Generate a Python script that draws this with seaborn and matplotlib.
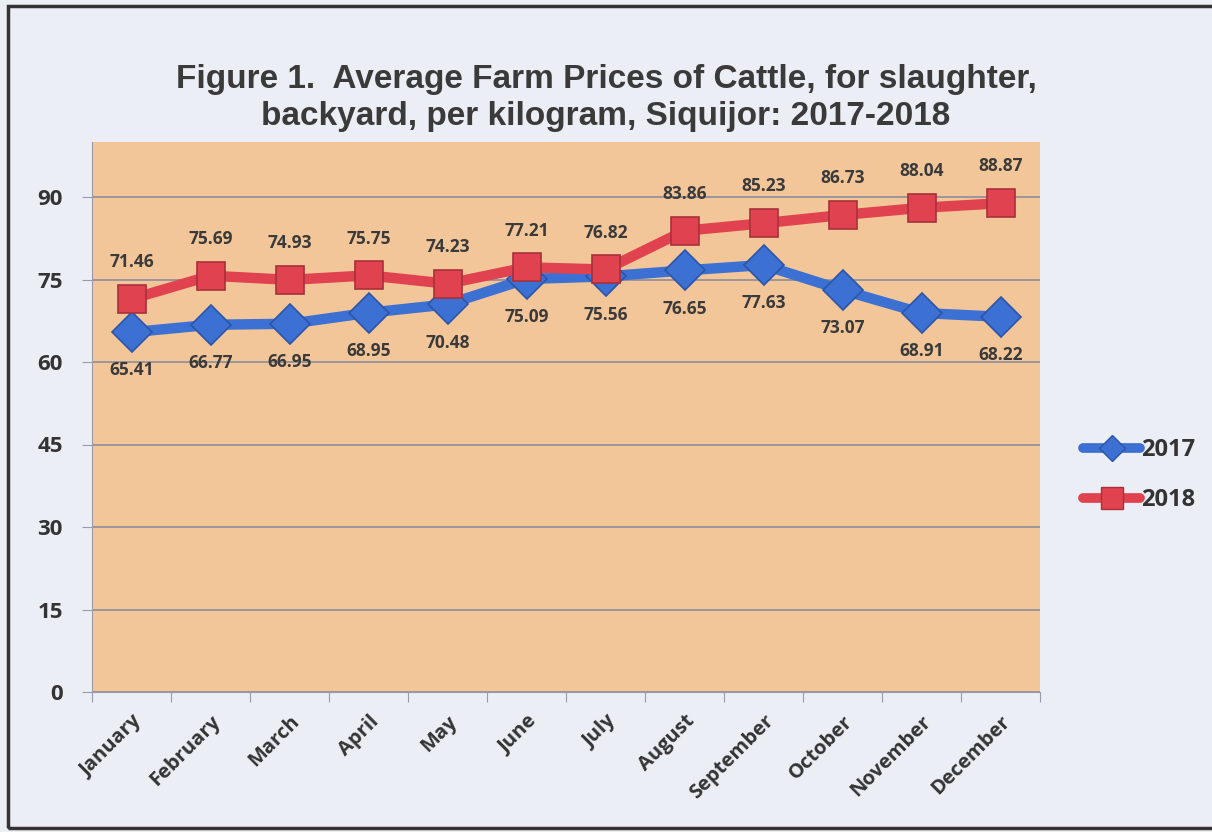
import matplotlib.pyplot as plt
import pandas as pd
import seaborn as sns
from matplotlib.lines import Line2D
from matplotlib.patches import Rectangle

# dados
months = ['January', 'February', 'March', 'April', 'May', 'June', 'July',
          'August', 'September', 'October', 'November', 'December']
prices_2017 = [65.41, 66.77, 66.95, 68.95, 70.48, 75.09, 75.56, 76.65, 77.63, 73.07, 68.91, 68.22]
prices_2018 = [71.46, 75.69, 74.93, 75.75, 74.23, 77.21, 76.82, 83.86, 85.23, 86.73, 88.04, 88.87]
y_ticks = [0, 15, 30, 45, 60, 75, 90]

df = pd.DataFrame({
    'Month': months * 2,
    'Price': prices_2017 + prices_2018,
    'Year': ['2017'] * 12 + ['2018'] * 12,
})
df['x'] = list(range(12)) * 2

sns.set_style('white')
plt.rcParams['font.family'] = ['Liberation Sans', 'DejaVu Sans']
label_font = ['Open Sans', 'DejaVu Sans']

fig = plt.figure(figsize=(12.12, 8.32), dpi=100, facecolor='#ECEEF5')
ax = fig.add_axes([92 / 1212, 1 - 692 / 832, 948 / 1212, 550 / 832])
ax.set_facecolor('#F3C69A')

colors = {'2017': '#3C70D2', '2018': '#E0434F'}
sns.lineplot(data=df, x='x', y='Price', hue='Year', style='Year',
             palette=colors, markers={'2017': 'D', '2018': 's'}, dashes=False,
             linewidth=7.5, markersize=20, markeredgewidth=1.2, ax=ax, legend=False)
for line, ec in zip(ax.lines, ['#2B55A8', '#A8303A']):
    line.set_markeredgecolor(ec)
    line.set_solid_capstyle('round')

for i, (a, b) in enumerate(zip(prices_2017, prices_2018)):
    ax.annotate(f'{b:.2f}', (i, b), xytext=(0, 20), textcoords='offset points',
                ha='center', va='bottom', fontsize=12.5, fontweight='bold', color='#3A3A3A',
                family=label_font)
    ax.annotate(f'{a:.2f}', (i, a), xytext=(0, -21), textcoords='offset points',
                ha='center', va='top', fontsize=12.5, fontweight='bold', color='#3A3A3A',
                family=label_font)

ax.set_xlim(-0.5, 11.5)
ax.set_ylim(0, 100)
ax.set_yticks(y_ticks)
ax.set_yticklabels(y_ticks, fontsize=16, fontweight='bold', color='#333333', family=label_font)
ax.set_xticks([i + 0.5 for i in range(-1, 12)], minor=False)
ax.set_xticklabels([])
ax.set_xticks(range(12), minor=True)
ax.set_xticklabels(months, minor=True, rotation=45, ha='right', rotation_mode='anchor',
                   fontsize=14.5, fontweight='bold', color='#333333', family=label_font)
ax.tick_params(axis='x', which='major', length=7, color='#9A9AA8', direction='out', bottom=True)
ax.tick_params(axis='x', which='minor', length=0, pad=14)
ax.tick_params(axis='y', length=7, color='#9A9AA8', direction='out', left=True, pad=14)
ax.yaxis.grid(True, color='#8E8E9A', linewidth=1.2)
ax.set_axisbelow(True)
for side in ['top', 'right']:
    ax.spines[side].set_visible(False)
for side in ['left', 'bottom']:
    ax.spines[side].set_color('#9A9AA8')
ax.set_xlabel('')
ax.set_ylabel('')

fig.text(0.5, 1 - 98 / 832,
         'Figure 1.  Average Farm Prices of Cattle, for slaughter,\nbackyard, per kilogram, Siquijor: 2017-2018',
         ha='center', va='center', fontsize=24, fontweight='bold', color='#3A3A3A', linespacing=1.25)

# legenda manual
handles = [
    Line2D([], [], color=colors['2017'], linewidth=7, marker='D', markersize=13,
           markeredgecolor='#2B55A8', solid_capstyle='round'),
    Line2D([], [], color=colors['2018'], linewidth=7, marker='s', markersize=16,
           markeredgecolor='#A8303A', solid_capstyle='round'),
]
fig.legend(handles, ['2017', '2018'], loc='center left', bbox_to_anchor=(1062 / 1212, 1 - 475 / 832),
           frameon=False, handlelength=2.4, handletextpad=0.05, labelspacing=1.1,
           prop={'size': 17, 'weight': 'bold', 'family': label_font}, labelcolor='#333333')

fig.patches.append(Rectangle((8 / 1212, 4 / 832), 1210 / 1212, 822 / 832, transform=fig.transFigure,
                             fill=False, edgecolor='#333333', linewidth=2.5))

fig.savefig('out.png', dpi=100, facecolor=fig.get_facecolor())
